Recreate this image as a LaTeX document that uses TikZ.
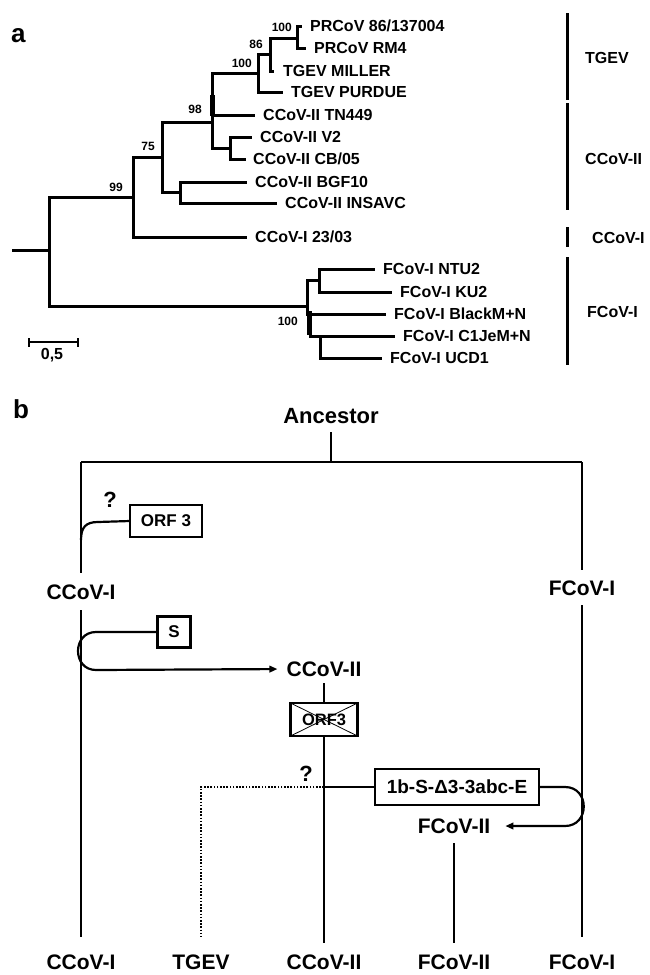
\documentclass[tikz,border=0pt]{standalone}
\usepackage{fontspec}
\setmainfont{Liberation Sans}
\usetikzlibrary{arrows.meta}
\begin{document}
\begin{tikzpicture}[x=1pt,y=-1pt,
  br/.style={line width=3pt},
  tipl/.style={anchor=west,inner sep=0pt,font=\fontsize{16}{16}\selectfont\bfseries,text height=11.5pt,text depth=0pt},
  supl/.style={anchor=east,inner sep=0pt,font=\fontsize{12}{12}\selectfont\bfseries,text height=8.6pt,text depth=0pt},
  panl/.style={anchor=base west,inner sep=0pt,font=\fontsize{26}{26}\selectfont\bfseries},
  bl/.style={inner sep=0pt,font=\fontsize{21}{21}\selectfont\bfseries,text height=15pt,text depth=0pt},
  ql/.style={inner sep=0pt,font=\fontsize{22}{22}\selectfont\bfseries,text height=15.8pt,text depth=0pt},
  ln/.style={line width=2.2pt},
  gbox/.style={draw,line width=2.2pt,inner sep=0pt,outer sep=0pt,font=\fontsize{17}{17}\selectfont\bfseries},
  arr/.style={ln,-{Triangle[length=8pt,width=6.5pt]}},
  dotl/.style={line width=1.8pt,dash pattern=on 1.6pt off 1.6pt},
]
\useasboundingbox (0,0) rectangle (650,975);

% ================= panel a =================
\node[panl] (pa) at (11,42) {a};

% internal nodes
\coordinate (R) at (49,250);
\coordinate (R0) at (12,250);
\coordinate (N99) at (133,197);
\coordinate (N75) at (162,157);
\coordinate (N98) at (212,122);
\coordinate (NA) at (258,73);
\coordinate (NB) at (270,54);
\coordinate (NC) at (297,38);
\coordinate (NV2) at (230,148);
\coordinate (NBGF) at (180,192);
\coordinate (FC) at (307,306);
\coordinate (S1) at (319,280);
\coordinate (ND) at (310,314);
\coordinate (S2) at (320,336);

% tip labels
\node[tipl] (t1) at (310,26) {PRCoV 86/137004};
\node[tipl] (t2) at (314,48) {PRCoV RM4};
\node[tipl] (t3) at (283,71) {TGEV MILLER};
\node[tipl] (t4) at (291,92) {TGEV PURDUE};
\node[tipl] (t5) at (263,115) {CCoV-II TN449};
\node[tipl] (t6) at (260,137) {CCoV-II V2};
\node[tipl] (t7) at (253,159) {CCoV-II CB/05};
\node[tipl] (t8) at (255,182) {CCoV-II BGF10};
\node[tipl] (t9) at (285,203) {CCoV-II INSAVC};
\node[tipl] (t10) at (255,237) {CCoV-I 23/03};
\node[tipl] (t11) at (383,269) {FCoV-I NTU2};
\node[tipl] (t12) at (400,292) {FCoV-I KU2};
\node[tipl] (t13) at (394,314) {FCoV-I BlackM+N};
\node[tipl] (t14) at (403,336) {FCoV-I C1JeM+N};
\node[tipl] (t15) at (390,358) {FCoV-I UCD1};

% tip ends
\coordinate (e1) at (302,26);
\coordinate (e2) at (306,48);
\coordinate (e3) at (274,71);
\coordinate (e4) at (283,92);
\coordinate (e5) at (255,115);
\coordinate (e6) at (252,137);
\coordinate (e7) at (246,159);
\coordinate (e8) at (247,182);
\coordinate (e9) at (277,203);
\coordinate (e10) at (247,237);
\coordinate (e11) at (375,269);
\coordinate (e12) at (392,292);
\coordinate (e13) at (386,314);
\coordinate (e14) at (395,336);
\coordinate (e15) at (382,358);

\draw[br] (R0) -- (R);
\draw[br] (R) |- (N99);  \draw[br] (R) |- (FC);
\draw[br] (N99) |- (N75); \draw[br] (N99) |- (e10);
\draw[br] (N75) |- (N98); \draw[br] (N75) |- (NBGF);
\draw[br] (N98) |- (NA);  \draw[br] (N98) |- (e5); \draw[br] (N98) |- (NV2);
\draw[br] (NA) |- (NB);   \draw[br] (NA) |- (e4);
\draw[br] (NB) |- (NC);   \draw[br] (NB) |- (e3);
\draw[br] (NC) |- (e1);   \draw[br] (NC) |- (e2);
\draw[br] (NV2) |- (e6);  \draw[br] (NV2) |- (e7);
\draw[br] (NBGF) |- (e8); \draw[br] (NBGF) |- (e9);
\draw[br] (FC) |- (S1);   \draw[br] (FC) |- (ND);
\draw[br] (S1) |- (e11);  \draw[br] (S1) |- (e12);
\draw[br] (ND) |- (e13);  \draw[br] (ND) |- (S2);
\draw[br] (S2) |- (e14);  \draw[br] (S2) |- (e15);
% thick short internal branches
\coordinate (k1) at (212.5,95);  \coordinate (k2) at (212.5,116);
\draw[line width=5pt] (k1) -- (k2);
\coordinate (k3) at (309,311);  \coordinate (k4) at (309,335);
\draw[line width=5pt] (k3) -- (k4);

% support values
\node[supl] (s1) at (292,27) {100};
\node[supl] (s2) at (263,44) {86};
\node[supl] (s3) at (252,63) {100};
\node[supl] (s4) at (202,109) {98};
\node[supl] (s5) at (155,146) {75};
\node[supl] (s6) at (123,187) {99};
\node[supl] (s7) at (298,321) {100};

% scale bar
\coordinate (sb1) at (29,342); \coordinate (sb2) at (78,342);
\draw[line width=2.5pt] (sb1) -- (sb2);
\draw[line width=2pt] ([yshift=-4.5pt]sb1) -- ([yshift=4.5pt]sb1);
\draw[line width=2pt] ([yshift=-4.5pt]sb2) -- ([yshift=4.5pt]sb2);
\node[inner sep=0pt,font=\fontsize{16}{16}\selectfont\bfseries,text height=11.5pt,text depth=0pt] (sbl) at (52,354) {0,5};

% group bars
\coordinate (g1a) at (567,13);  \coordinate (g1b) at (567,100);
\coordinate (g2a) at (567,103); \coordinate (g2b) at (567,210);
\coordinate (g3a) at (567,227); \coordinate (g3b) at (567,247);
\coordinate (g4a) at (567,257); \coordinate (g4b) at (567,365);
\draw[line width=3pt] (g1a) -- (g1b);
\draw[line width=3pt] (g2a) -- (g2b);
\draw[line width=3pt] (g3a) -- (g3b);
\draw[line width=3pt] (g4a) -- (g4b);
\node[tipl] (gl1) at (585,58) {TGEV};
\node[tipl] (gl2) at (585,159) {CCoV-II};
\node[tipl] (gl3) at (592,238) {CCoV-I};
\node[tipl] (gl4) at (587,312) {FCoV-I};

% ================= panel b =================
\node[panl] (pb) at (13,418) {b};
\node[ql] (anc) at (331,416) {Ancestor};
\coordinate (tm) at (331,462);
\coordinate (tl) at (81,462);
\coordinate (tr) at (582,462);
\draw[ln, shorten <=8pt] (anc) -- (tm);
\draw[ln] (tl) -- (tr);

\node[bl] (cc1) at (81,592) {CCoV-I};
\node[bl] (fc1) at (582,588) {FCoV-I};
\node[bl] (cc1b) at (81,962) {CCoV-I};
\node[bl] (tgb) at (201,962) {TGEV};
\node[bl] (cc2b) at (324,962) {CCoV-II};
\node[bl] (fc2b) at (454,962) {FCoV-II};
\node[bl] (fc1b) at (582,962) {FCoV-I};

\draw[ln, shorten >=11.5pt] (tl) -- (cc1);
\draw[ln, shorten <=10.5pt, shorten >=17.5pt] (cc1) -- (cc1b);
\draw[ln, shorten >=10.5pt] (tr) -- (fc1);
\draw[ln, shorten <=9.5pt, shorten >=17.5pt] (fc1) -- (fc1b);

% ORF 3 branch
\node[ql] (q1) at (110,500) {?};
\node[gbox,minimum width=72pt,minimum height=32pt] (o3) at (166,521) {ORF 3};
\coordinate (c1) at (81,540);
\draw[ln] (c1) .. controls (81,527) and (86,522) .. (98,522) -- (o3.west);

% S branch
\node[gbox,minimum width=33pt,minimum height=31pt] (sbox) at (174,632) {S};
\node[bl] (cc2) at (324,669) {CCoV-II};
\draw[arr, shorten >=9pt] (sbox.west) -- (96,632) .. controls (72,632) and (72,670) .. (96,670) -- (cc2.west);

% crossed ORF3
\node[gbox,minimum width=67pt,minimum height=33pt,font=\fontsize{16.5}{16.5}\selectfont\bfseries] (ox) at (324,719.5) {ORF3};
\draw[line width=0.8pt] (ox.north west) -- (ox.south east);
\draw[line width=0.8pt] (ox.north east) -- (ox.south west);
\draw[ln, shorten <=6.5pt] (cc2) -- (ox);
\draw[ln, shorten >=11.5pt] (ox) -- (cc2b);

% recombination box
\node[ql] (q2) at (306,774) {?};
\node[gbox,minimum width=164pt,minimum height=36pt,font=\fontsize{19}{19}\selectfont\bfseries] (bx) at (457,787) {1b-S-Δ3-3abc-E};
\coordinate (j) at (324,787);
\draw[ln] (j) -- (bx.west);
\draw[dotl, shorten >=17.5pt] (j) -| (tgb);
\node[bl] (fc2) at (454,826) {FCoV-II};
\draw[arr, shorten >=15pt] (bx.east) -- (565,787) .. controls (590,787) and (590,826) .. (565,826) -- (fc2.east);
\draw[ln, shorten <=9.5pt, shorten >=11.5pt] (fc2) -- (fc2b);
\end{tikzpicture}
\end{document}
